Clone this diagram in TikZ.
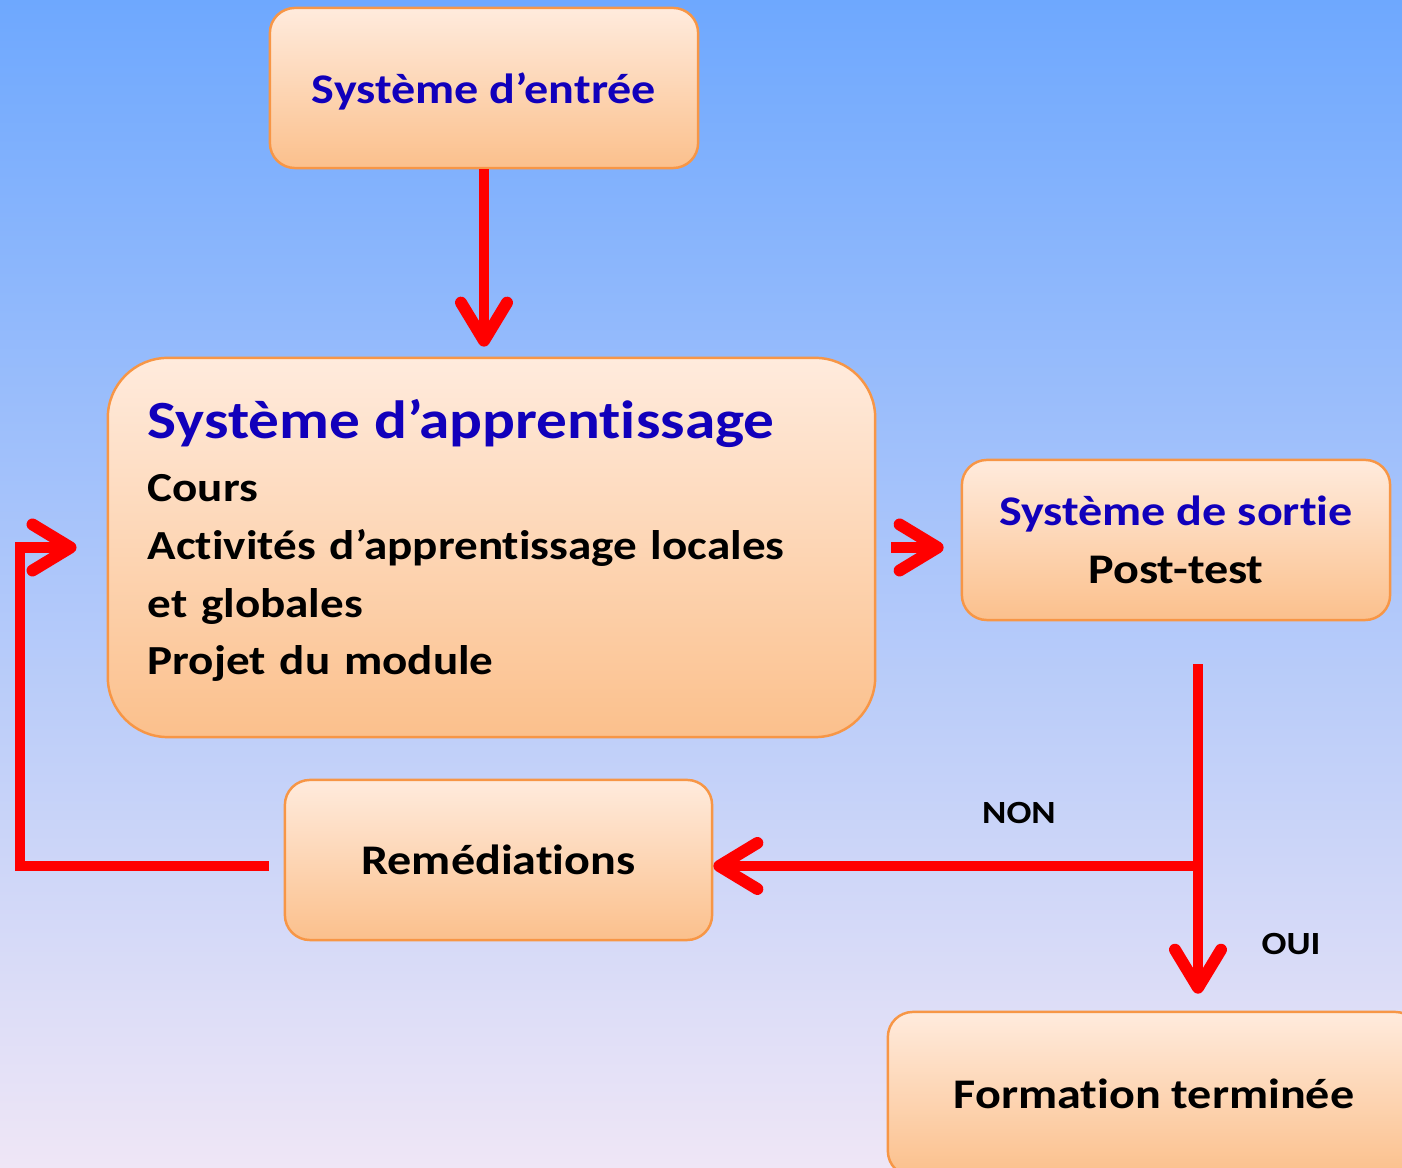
\documentclass[tikz,border=0pt]{standalone}
\usepackage{fontspec}
\setmainfont{Carlito}[FakeStretch=1.14, Ligatures=CommonOff]
\usetikzlibrary{arrows.meta,calc,positioning}
\definecolor{boxtop}{HTML}{FFEBDD}
\definecolor{boxbot}{HTML}{FBC08C}
\definecolor{boxline}{HTML}{F79646}
\definecolor{titleblue}{HTML}{1100BB}
\definecolor{flowred}{HTML}{FF0000}
\definecolor{bgtop}{HTML}{6EA8FE}
\definecolor{bgmid}{HTML}{A6CBF2}
\definecolor{bgbot}{HTML}{EFE6F6}
\tikzset{
  box/.style={draw=boxline, line width=0.7pt, rounded corners=0.25cm,
    top color=boxtop, bottom color=boxbot, align=center, inner sep=0pt,
    font=\bfseries\fontsize{12}{16.3}\selectfont},
  boxtext/.style={inner sep=0pt, align=left, text width=7cm,
    font=\bfseries\fontsize{11.75}{16.4}\selectfont},
  flow/.style={draw=flowred, line width=3.1pt,
    -{Straight Barb[length=0.38cm, width=0.46cm, round, line width=3.4pt]}},
  answer/.style={font=\bfseries\fontsize{9.2}{11}\selectfont},
}

\begin{document}
\begin{tikzpicture}[x=0.01cm, y=-0.01cm]

  % background
  \clip (0,0) rectangle (1402,1168);
  \shade[top color=bgtop, middle color=bgmid, bottom color=bgbot] (0,0) rectangle (1402,1168);

  % boxes
  \node[box, minimum width=4.28cm, minimum height=1.6cm] (entree) at (484,88)
    {\color{titleblue}\raisebox{-0.85pt}[\height][\depth]{Système d’entrée}};
  \node[box, rounded corners=0.6cm, minimum width=7.67cm, minimum height=3.79cm]
    (app) at (491.5,547.5) {};
  \node[boxtext, anchor=base west] (applist) at (147,439)
    {{\color{titleblue}\fontsize{15.3}{18}\selectfont Système d’apprentissage}\\[1.5pt]
     Cours\\ Activités d’apprentissage locales\\ et globales\\ Projet du module};
  \node[box, minimum width=4.28cm, minimum height=1.6cm] (sortie) at (1176,540)
    {{\color{titleblue}Système de sortie}\\ Post-test};
  \node[box, minimum width=4.27cm, minimum height=1.6cm] (rem) at (498.5,860)
    {Remédiations};
  \node[box, minimum width=5.32cm, minimum height=1.64cm] (form) at (1154,1094)
    {Formation terminée};

  % answers
  \node[answer] (non) at (1019,813) {NON};
  \node[answer] (oui) at (1291,944) {OUI};

  % connectors
  \coordinate (fork) at (1198,866);
  \coordinate (loop) at (20,866);
  \draw[flow, shorten >=0.1cm] (entree.south) -- (entree.south |- app.north);
  \draw[flow] ($(app.east)+(15,0)$) -- ($(app.east -| sortie.west)+(-17,0)$);
  \draw[flow, shorten >=0.17cm] ($(sortie.south -| fork)+(0,43)$) -- (fork |- form.north);
  \draw[flow] (fork) -- (fork -| rem.east);
  \draw[flow, shorten >=0.3cm] ($(fork -| rem.west)+(-15,0)$) -- (loop) |- (app.west);

\end{tikzpicture}
\end{document}
